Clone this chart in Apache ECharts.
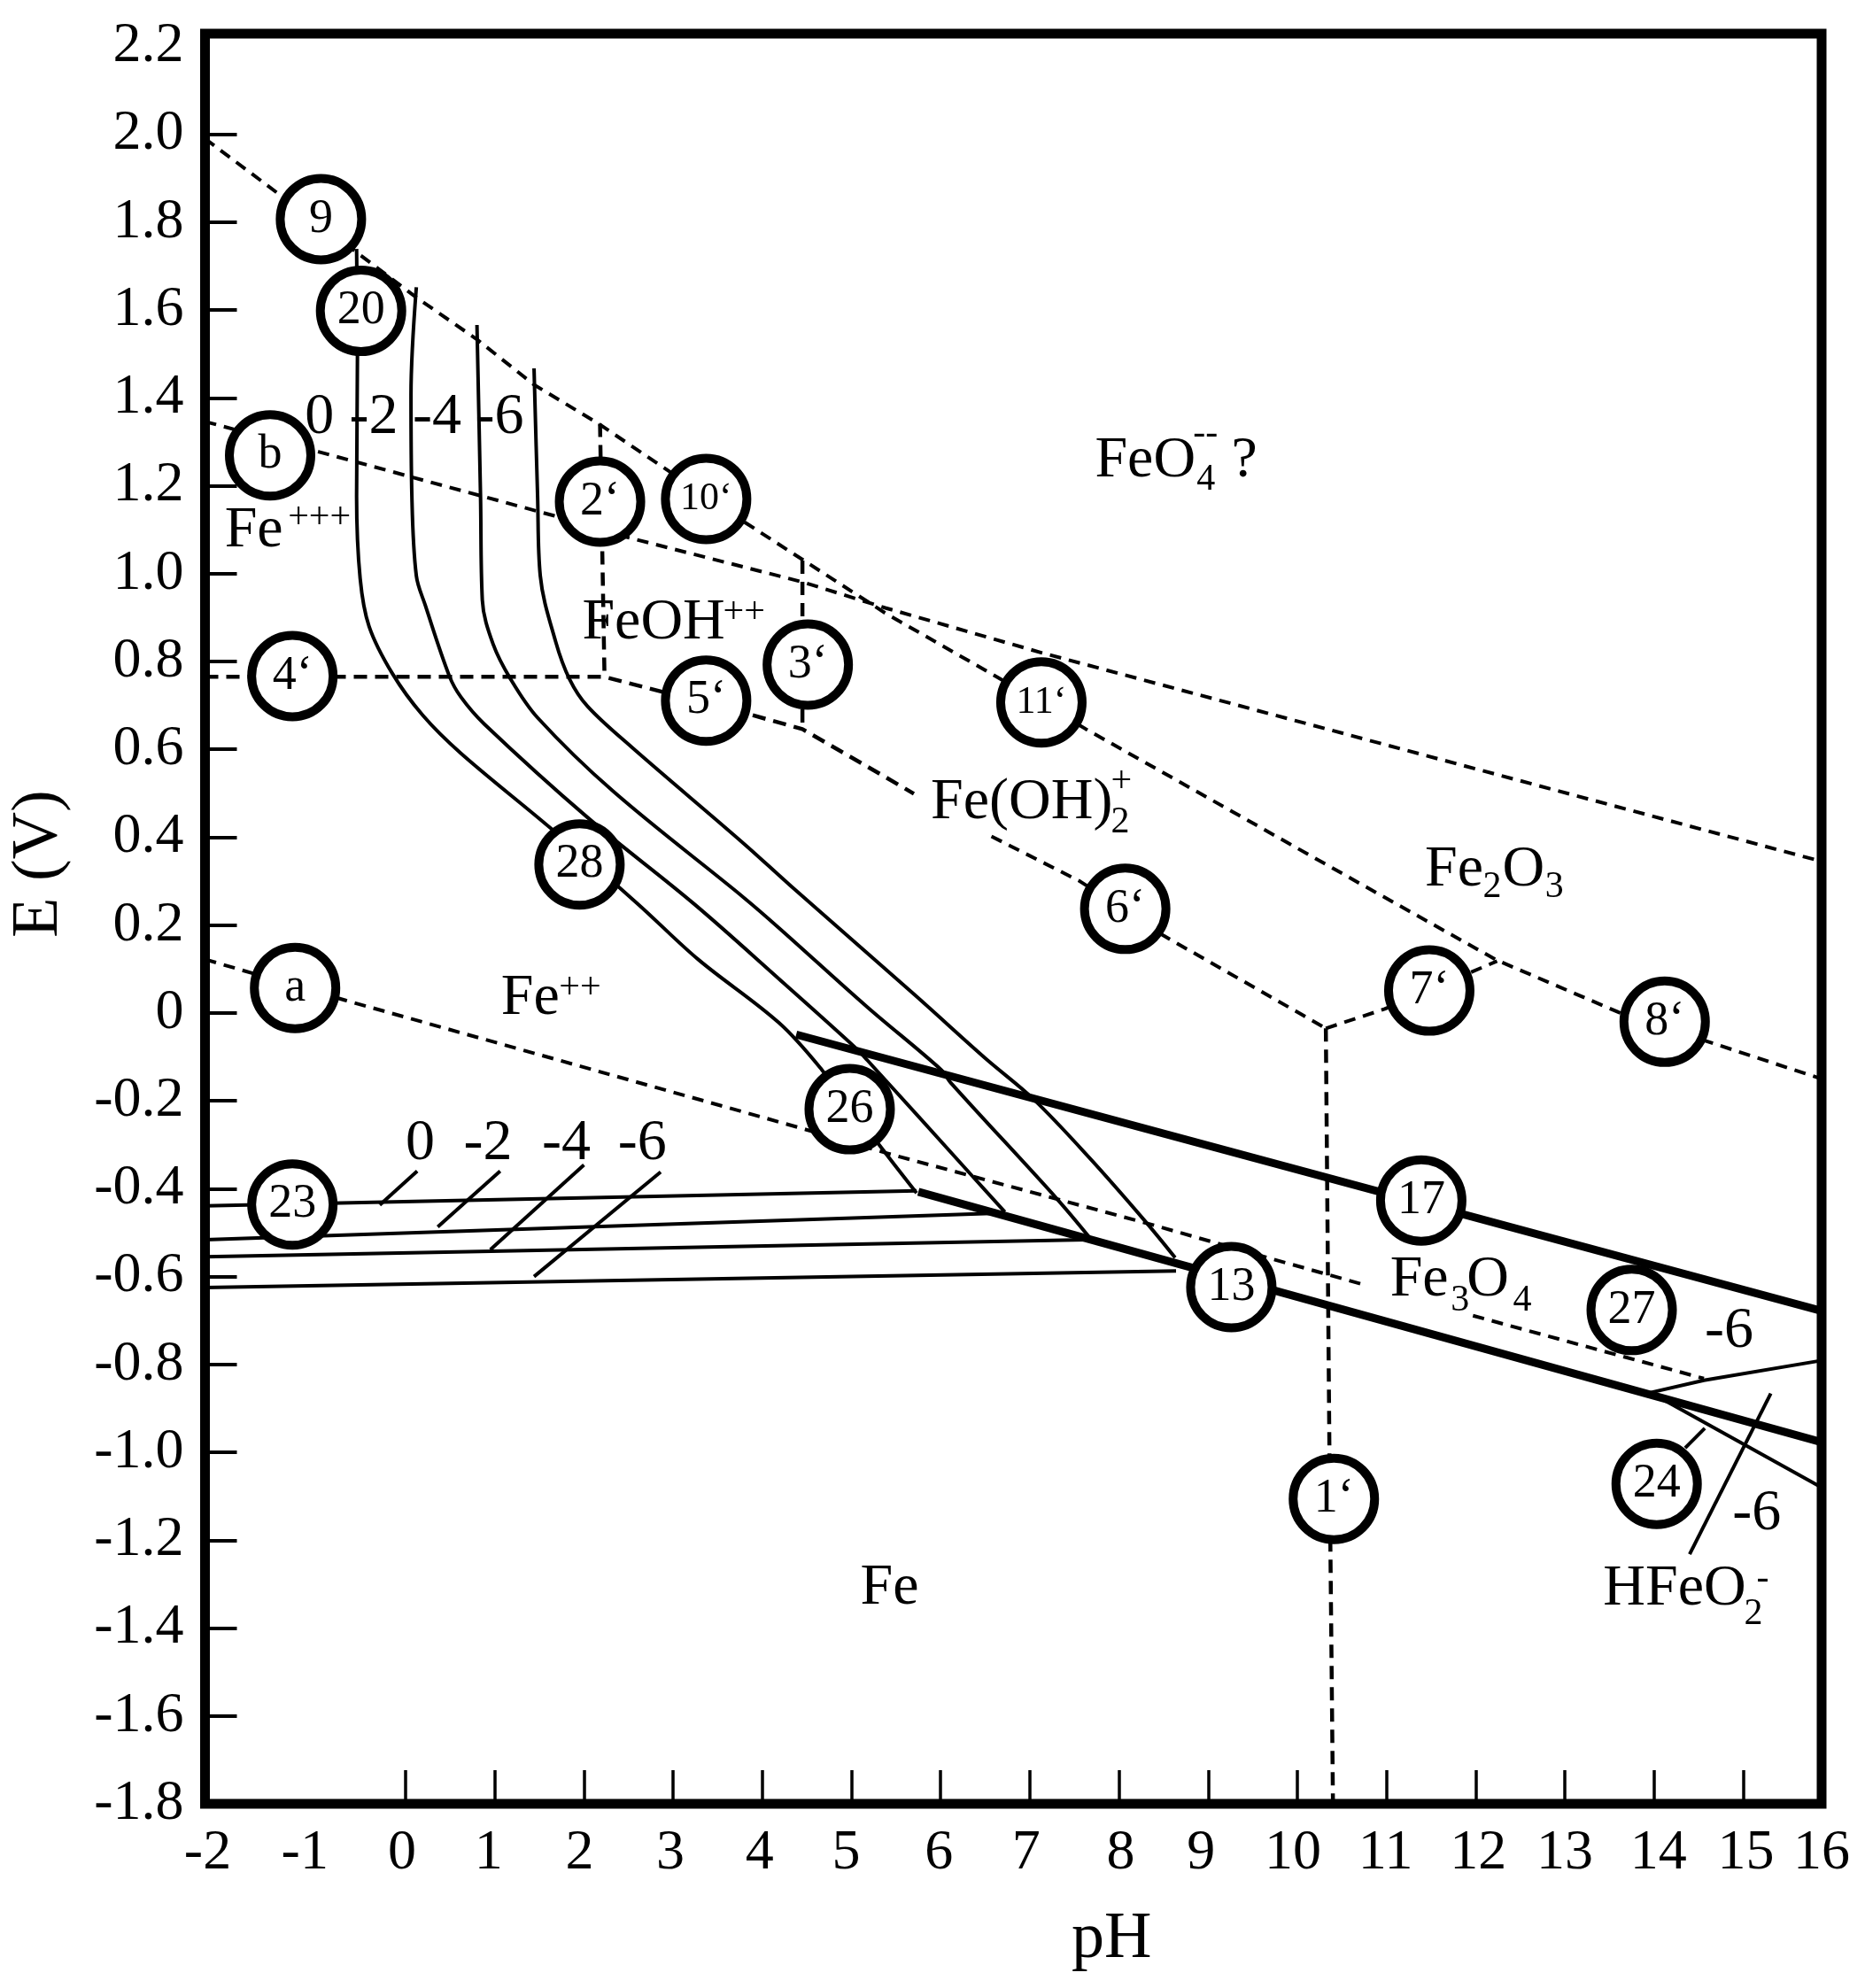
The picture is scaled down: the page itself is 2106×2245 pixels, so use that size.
<!DOCTYPE html>
<html>
<head>
<meta charset="utf-8">
<title>Fe E-pH diagram</title>
<script src="https://cdn.jsdelivr.net/npm/echarts@6/dist/echarts.min.js"></script>
<style>
html, body { margin: 0; padding: 0; background: #fff; }
#main { width: 2106px; height: 2245px; }
</style>
</head>
<body>
<div id="main"></div>
<script>
// axis ticks and labels
var yLabels = ['-1.8','-1.6','-1.4','-1.2','-1.0','-0.8','-0.6','-0.4','-0.2','0','0.2','0.4','0.6','0.8','1.0','1.2','1.4','1.6','1.8','2.0','2.2'];
var yTicks = [-1.6,-1.4,-1.2,-1.0,-0.8,-0.6,-0.4,-0.2,0,0.2,0.4,0.6,0.8,1.0,1.2,1.4,1.6,1.8,2.0];
var xTicks = [0,1,2,3,4,5,6,7,8,9,10,11,12,13,14,15];
var xLabels = ['-2','-1','0','1','2','3','4','5','6','7','8','9','10','11','12','13','14','15','16'];
// the labels in the picture do not sit exactly under the ticks
var xLabelAt = [-2.22,-1.13,-0.04,0.93,1.95,2.97,3.97,4.94,5.98,6.96,8.02,8.92,9.95,10.99,12.03,13.0,14.05,15.03,15.88];

// dashed boundaries [pH, E]
var dashTop = [[-2.25,1.99],[-1.41,1.862],[-0.56,1.733],[0.11,1.63],[0.8,1.533],[1.44,1.43],[2.165,1.341],[3.81,1.116],[5.38,0.91],[7.13,0.707],[7.63,0.646],[10.7,0.295],[12.24,0.12],[13.61,0.001],[15.88,-0.15]];
var dashB = [[-2.25,1.346],[-0.97,1.277],[1.66,1.132],[2.48,1.083],[4.45,0.981],[5.38,0.922],[7.13,0.82],[15.88,0.345]];
var dash4to5 = [[-2.25,0.765],[2.23,0.765],[3.87,0.679],[4.45,0.646],[5.38,0.537],[5.7,0.499]];
var dash6 = [[6.57,0.402],[7.56,0.3],[8.5,0.176],[10.32,-0.035]];
var dash1 = [[10.32,-0.035],[10.36,-0.99],[10.4,-1.8]];
var dash7 = [[10.32,-0.035],[10.98,0.009],[12.24,0.118]];
var dash2 = [[2.18,1.341],[2.23,0.769]];
var dash3 = [[4.45,1.03],[4.45,0.646]];
var dashA = [[-2.25,0.122],[-0.68,0.029],[4.45,-0.263],[5.41,-0.32],[8.32,-0.479],[9.72,-0.56],[10.74,-0.618]];
var dashA2 = [[11.97,-0.689],[14.56,-0.832]];

// heavy lines
var heavy17 = [[4.38,-0.049],[15.88,-0.678]];
var heavy13 = [[5.75,-0.407],[15.88,-0.977]];

// ion concentration curves
var curve0 = [[-0.55,1.739],[-0.54,1.509],[-0.55,1.176],[-0.51,0.989],[-0.41,0.88],[-0.15,0.773],[0.19,0.678],[0.62,0.591],[1.63,0.42],[2.6,0.249],[3.28,0.122],[4.19,-0.023],[4.67,-0.13],[5.31,-0.3],[5.73,-0.41]];
var curve2 = [[0.12,1.652],[0.06,1.406],[0.07,1.176],[0.12,0.995],[0.22,0.928],[0.49,0.767],[0.62,0.719],[0.88,0.658],[2.04,0.445],[3.23,0.249],[4.19,0.077],[5.05,-0.08],[5.18,-0.108],[6.35,-0.37],[6.72,-0.453]];
var curve4 = [[0.8,1.566],[0.84,1.176],[0.86,0.94],[0.98,0.84],[1.18,0.759],[1.48,0.672],[2.33,0.504],[3.79,0.263],[4.19,0.193],[5.18,0.013],[6.01,-0.13],[6.11,-0.158],[7.3,-0.422],[7.67,-0.511]];
var curve6 = [[1.44,1.467],[1.48,1.176],[1.51,0.995],[1.68,0.847],[1.84,0.759],[2.04,0.698],[2.53,0.606],[3.79,0.386],[4.32,0.289],[5.71,0.041],[6.5,-0.103],[7.04,-0.196],[7.67,-0.33],[8.29,-0.473],[8.63,-0.557]];
var flat0 = [[-2.25,-0.439],[5.73,-0.405]];
var flat2 = [[-2.25,-0.516],[6.72,-0.455]];
var flat4 = [[-2.25,-0.555],[7.63,-0.516]];
var flat6 = [[-2.25,-0.625],[8.64,-0.587]];
var hfeUp = [[13.96,-0.864],[14.56,-0.836],[15.88,-0.791]];
var hfeDown = [[13.96,-0.864],[15.88,-1.08]];

// short pointer lines
var pointers = [
  [[-0.29,-0.437],[0.13,-0.36]],
  [[0.36,-0.487],[1.06,-0.36]],
  [[0.95,-0.539],[2.0,-0.346]],
  [[1.44,-0.6],[2.86,-0.362]],
  [[14.35,-0.99],[14.57,-0.945]],
  [[15.31,-0.866],[14.4,-1.232]]
];

// numbered circles
var circleNames = ['9','20','b','2‘','10‘','4‘','3‘','5‘','11‘','28','6‘','a','7‘','8‘','26','23','17','13','27','24','1‘'];
var circlePH = [-0.95,-0.5,-1.52,2.18,3.37,-1.27,4.51,3.37,7.13,1.95,8.07,-1.24,11.48,14.12,4.98,-1.27,11.39,9.26,13.75,14.03,10.41];
var circleE = [1.807,1.598,1.269,1.164,1.17,0.767,0.793,0.711,0.707,0.338,0.237,0.057,0.051,-0.02,-0.219,-0.436,-0.427,-0.624,-0.676,-1.072,-1.106];
var smallCircles = ['10‘','11‘'];

// region text, [pH of left edge, E of middle, text]
var bigText = [
  [-2.03,1.096,'Fe'],[1.98,0.888,'FeOH'],[7.73,1.257,'FeO'],[9.26,1.257,'?'],
  [5.89,0.479,'Fe(OH)'],[11.43,0.326,'Fe'],[12.3,0.326,'O'],[1.07,0.033,'Fe'],
  [5.1,-1.31,'Fe'],[11.04,-0.608,'Fe'],[11.9,-0.608,'O'],[13.43,-1.311,'HFeO'],
  [14.57,-0.726,'-6'],[14.88,-1.14,'-6'],
  [-1.13,1.354,'0'],[-0.63,1.354,'-2'],[0.08,1.354,'-4'],[0.78,1.354,'-6'],
  [0,-0.298,'0'],[0.65,-0.298,'-2'],[1.53,-0.298,'-4'],[2.38,-0.298,'-6']
];
var smallText = [
  [-1.32,1.126,'+++'],[3.56,0.91,'++'],[8.87,1.213,'4'],[8.83,1.318,'--'],
  [7.91,0.434,'2'],[7.91,0.525,'+'],[12.08,0.286,'2'],[12.78,0.286,'3'],
  [1.72,0.057,'++'],[11.72,-0.656,'3'],[12.42,-0.656,'4'],[15.01,-1.368,'2'],[15.15,-1.287,'-']
];

var FONT = '"Liberation Serif", "Times New Roman", serif';

function lineSeries(data, width, dash, smooth) {
  return {
    type: 'line',
    data: data,
    showSymbol: false,
    silent: true,
    smooth: smooth ? 0.35 : false,
    z: 3,
    lineStyle: { color: '#000', width: width, type: dash || 'solid', cap: 'butt', join: 'round' }
  };
}

function textSeries(data, size) {
  return {
    type: 'scatter',
    data: data,
    symbolSize: 0,
    silent: true,
    z: 12,
    itemStyle: { opacity: 1 },
    label: {
      show: true,
      position: 'right',
      distance: 0,
      color: '#000',
      opacity: 1,
      fontFamily: FONT,
      fontSize: size,
      formatter: function (p) { return p.data[2]; }
    }
  };
}

var series = [];
[dashTop, dashB, dash6, dash7, dashA, dashA2].forEach(function (d) {
  series.push(lineSeries(d, 4, [13, 9]));
});
[dash4to5, dash1, dash2, dash3].forEach(function (d) {
  series.push(lineSeries(d, 4.5, [15, 9]));
});
[curve0, curve2, curve4, curve6].forEach(function (d) {
  series.push(lineSeries(d, 4, null, true));
});
[flat0, flat2, flat4, flat6, hfeUp, hfeDown].forEach(function (d) {
  series.push(lineSeries(d, 4));
});
pointers.forEach(function (d) {
  series.push(lineSeries(d, 4));
});
[heavy17, heavy13].forEach(function (d) {
  series.push(lineSeries(d, 9));
});

series.push({
  type: 'scatter',
  silent: true,
  z: 10,
  symbol: 'circle',
  symbolSize: 92,
  itemStyle: { color: '#fff', borderColor: '#000', borderWidth: 10, opacity: 1 },
  data: circleNames.map(function (name, i) {
    return {
      value: [circlePH[i], circleE[i]],
      name: name,
      label: {
        show: true,
        position: 'inside',
        color: '#000',
        fontFamily: FONT,
        fontSize: smallCircles.indexOf(name) >= 0 ? 44 : 54,
        formatter: name
      }
    };
  })
});
series.push(textSeries(bigText, 66));
series.push(textSeries(smallText, 42));

var chart = echarts.init(document.getElementById('main'), null, { renderer: 'canvas' });
var option = {
  animation: false,
  backgroundColor: '#fff',
  grid: {
    left: 231.5,
    right: 49,
    top: 38,
    bottom: 208,
    outerBoundsMode: 'none',
    show: true,
    borderColor: '#000',
    borderWidth: 11,
    backgroundColor: 'transparent'
  },
  xAxis: {
    type: 'value',
    min: -2.25,
    max: 15.88,
    name: 'pH',
    nameLocation: 'middle',
    nameGap: 117,
    nameMoveOverlap: false,
    nameTextStyle: { color: '#000', fontFamily: FONT, fontSize: 74, padding: [0, 0, 0, 222] },
    axisLine: { show: false, onZero: false },
    splitLine: { show: false },
    axisTick: {
      show: true,
      inside: true,
      length: 38,
      customValues: xTicks,
      lineStyle: { color: '#000', width: 3.5 }
    },
    axisLabel: {
      show: true,
      margin: 24,
      color: '#000',
      fontFamily: FONT,
      fontSize: 64,
      customValues: xLabelAt,
      hideOverlap: false,
      formatter: function (v) { return xLabels[xLabelAt.indexOf(v)]; }
    }
  },
  yAxis: {
    type: 'value',
    min: -1.8,
    max: 2.229,
    name: 'E (V)',
    nameLocation: 'middle',
    nameRotate: 90,
    nameGap: 150,
    nameMoveOverlap: false,
    nameTextStyle: { color: '#000', fontFamily: FONT, fontSize: 74, padding: [0, 0, 0, 124] },
    axisLine: { show: false, onZero: false },
    splitLine: { show: false },
    axisTick: {
      show: true,
      inside: true,
      length: 36,
      customValues: yTicks,
      lineStyle: { color: '#000', width: 4 }
    },
    axisLabel: {
      show: true,
      margin: 24,
      color: '#000',
      fontFamily: FONT,
      fontSize: 64,
      customValues: yLabels.map(Number),
      hideOverlap: false,
      formatter: function (v) { return v === 0 ? '0' : v.toFixed(1); }
    }
  },
  series: series
};
chart.setOption(option);
</script>
</body>
</html>
